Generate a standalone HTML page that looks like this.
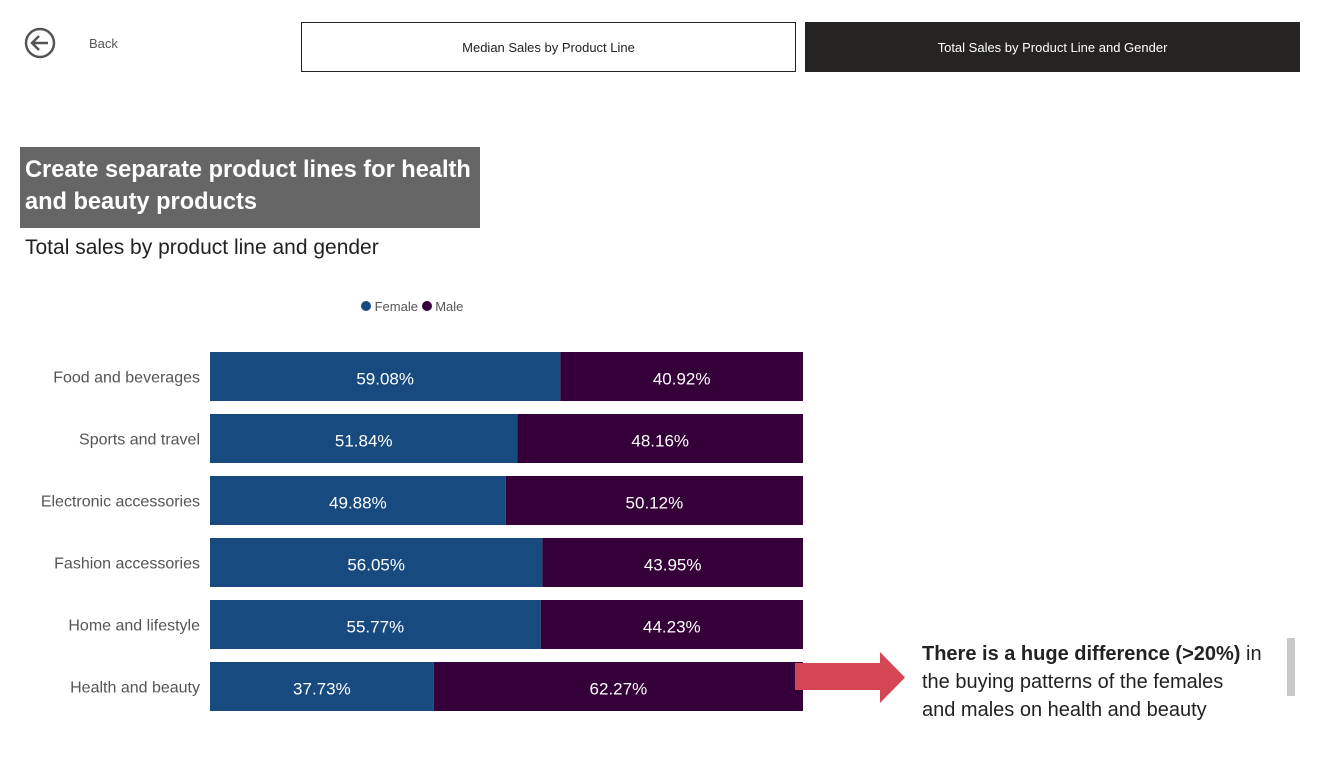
<!DOCTYPE html>
<html><head><meta charset="utf-8">
<style>
body{margin:0;width:1321px;height:762px;background:#fff;font-family:"Liberation Sans",sans-serif;position:relative;overflow:hidden}
.abs{position:absolute}
</style></head><body>
<svg class="abs" style="left:24px;top:27px" width="32" height="32">
<circle cx="16" cy="16" r="14" fill="none" stroke="#555" stroke-width="2.5"/>
<path d="M24 16H9M15 9l-7 7 7 7" fill="none" stroke="#555" stroke-width="2.5"/>
</svg>
<div class="abs" style="left:89px;top:36px;font-size:13px;color:#555">Back</div>
<div class="abs" style="left:301px;top:22px;width:493px;height:48px;border:1px solid #222;display:flex;align-items:center;justify-content:center;font-size:13px;color:#222">Median Sales by Product Line</div>
<div class="abs" style="left:805px;top:22px;width:495px;height:50px;background:#252423;display:flex;align-items:center;justify-content:center;font-size:13px;color:#fff">Total Sales by Product Line and Gender</div>
<div class="abs" style="left:20px;top:147px;width:460px;height:81px;background:#666;color:#fff;font-weight:bold;font-size:23.6px;line-height:32px;padding:7px 0 0 5px;box-sizing:border-box;white-space:nowrap">Create separate product lines for health<br>and beauty products</div>
<div class="abs" style="left:25px;top:236px;font-size:21px;color:#222">Total sales by product line and gender</div>
<div class="abs" style="left:361px;top:299px;font-size:13px;color:#555">
<span><span style="display:inline-block;width:10px;height:10px;border-radius:50%;background:#174a7e"></span> Female</span>
<span><span style="display:inline-block;width:10px;height:10px;border-radius:50%;background:#35003a"></span> Male</span>
</div>
<svg id="chart" class="abs" style="left:0;top:0" width="1321" height="762"></svg>
<svg class="abs" style="left:795px;top:652px" width="112" height="52">
<path d="M0 11H85V0L110 25.5 85 51V38H0Z" fill="#d44654"/>
</svg>
<div class="abs" style="left:922px;top:640px;width:370px;height:80px;overflow:hidden;font-size:20px;line-height:28px;color:#222;white-space:nowrap">
<b>There is a huge difference (&gt;20%)</b> in<br>the buying patterns of the females<br>and males on health and beauty</div>
<div class="abs" style="left:1287px;top:638px;width:8px;height:58px;background:#c8c8c8"></div>
<script>
const categories=["Food and beverages","Sports and travel","Electronic accessories","Fashion accessories","Home and lifestyle","Health and beauty"];
const female=[59.08,51.84,49.88,56.05,55.77,37.73];
const male=[40.92,48.16,50.12,43.95,44.23,62.27];
const svg=document.getElementById('chart');
const NS='http://www.w3.org/2000/svg';
const x0=210,x1=803,y0=352,step=62,bh=49;
const xs=v=>x0+(x1-x0)*v/100;
function mk(t,a){const e=document.createElementNS(NS,t);for(const k in a)e.setAttribute(k,a[k]);svg.appendChild(e);return e;}
categories.forEach((c,i)=>{
 const y=y0+i*step, tot=female[i]+male[i];
 const fw=female[i]/tot*100;
 const l=mk('text',{x:200,y:y+bh/2+6,'text-anchor':'end','font-size':16,fill:'#555'});l.textContent=c;
 
 
 const r1=mk('rect',{x:x0,y:y,width:xs(fw)-x0,height:bh,fill:'#174a7e'});
 
 
 const r2=mk('rect',{x:xs(fw),y:y,width:x1-xs(fw),height:bh,fill:'#35003a'});
 
 
 const t1=mk('text',{x:(x0+xs(fw))/2,y:y+bh/2+8,'text-anchor':'middle','font-size':17,fill:'#fff'});t1.textContent=female[i].toFixed(2)+'%';
 
 
 const t2=mk('text',{x:(xs(fw)+x1)/2,y:y+bh/2+8,'text-anchor':'middle','font-size':17,fill:'#fff'});t2.textContent=male[i].toFixed(2)+'%';
 
 
});
</script>
</body></html>
